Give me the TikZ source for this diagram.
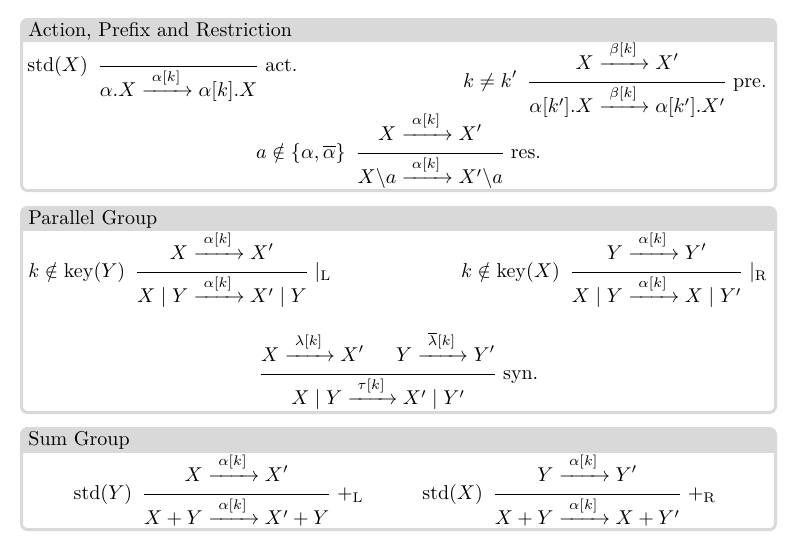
\documentclass[tikz,border=0pt]{standalone}
\usepackage{amsmath}
\usepackage{amssymb}
\usepackage{tikz}

\definecolor{panelgray}{gray}{0.85}

% labelled transition arrow
\newcommand{\trans}[1]{\xrightarrow{\hspace{2.5pt}#1\rule[-2.8pt]{0pt}{2.8pt}\hspace{2.5pt}}}
% side condition, premise, conclusion, rule name
\newcommand{\infrule}[4][]{%
  $\displaystyle
  \ifx\relax#1\relax\else{#1}\hspace{4.8pt}\fi
  {\frac{#2\rule[-5.1pt]{0pt}{5.1pt}}{\rule{0pt}{13.6pt}#3}}%
  \hspace{2.8pt}{#4}$}

\tikzset{
  panel/.style={draw=panelgray, line width=1.5pt, rounded corners=3pt},
  head/.style={anchor=base west, inner sep=0pt},
  infnode/.style={inner sep=0pt}
}

\begin{document}
\begin{tikzpicture}[x=0.5pt, y=-0.5pt]
\useasboundingbox (0,0) rectangle (793,552);

% Action, Prefix and Restriction
\begin{scope}
  \clip[rounded corners=3pt] (21.5,19.5) rectangle (775.5,190.5);
  \fill[panelgray] (21.5,19.5) rectangle (775.5,42);
\end{scope}
\draw[panel] (21.5,19.5) rectangle (775.5,190.5);
\node[head] (t1) at (28,36) {Action, Prefix and Restriction};

\node[infnode, anchor=base west] (act) at (27,71.5)
  {\infrule[\mathrm{std}(X)]{}{\alpha.X \trans{\alpha[k]} \alpha[k].X}{\text{act.}}};
\node[infnode, anchor=base east] (pre) at (767,87)
  {\infrule[k \neq k']{X \trans{\beta[k]} X'}{\alpha[k'].X \trans{\beta[k]} \alpha[k'].X'}{\text{pre.}}};
\node[infnode, anchor=base] (res) at (398.5,158)
  {\infrule[a \notin \{\alpha, \overline{\alpha}\}]{X \trans{\alpha[k]} X'}{X\backslash a \trans{\alpha[k]} X'\backslash a}{\text{res.}}};

% Parallel Group
\begin{scope}
  \clip[rounded corners=3pt] (21.5,207.5) rectangle (775.5,412.5);
  \fill[panelgray] (21.5,207.5) rectangle (775.5,231);
\end{scope}
\draw[panel] (21.5,207.5) rectangle (775.5,412.5);
\node[head] (t2) at (28,224) {Parallel Group};

\node[infnode, anchor=base west] (parl) at (28,277)
  {\infrule[k \notin \mathrm{key}(Y)]{X \trans{\alpha[k]} X'}{X \mid Y \trans{\alpha[k]} X' \mid Y}{|_{\mathrm{L}}}};
\node[infnode, anchor=base east] (parr) at (768,277)
  {\infrule[k \notin \mathrm{key}(X)]{Y \trans{\alpha[k]} Y'}{X \mid Y \trans{\alpha[k]} X \mid Y'}{|_{\mathrm{R}}}};
\node[infnode, anchor=base] (syn) at (398.5,379)
  {\infrule{X \trans{\lambda[k]} X' \hspace{16pt} Y \trans{\overline{\lambda}[k]} Y'}{X \mid Y \trans{\tau[k]} X' \mid Y'}{\text{syn.}}};

% Sum Group
\begin{scope}
  \clip[rounded corners=3pt] (21.5,428.5) rectangle (775.5,529.5);
  \fill[panelgray] (21.5,428.5) rectangle (775.5,453);
\end{scope}
\draw[panel] (21.5,428.5) rectangle (775.5,529.5);
\node[head] (t3) at (28,445) {Sum Group};

\node[infnode, anchor=base east] (suml) at (364,499)
  {\infrule[\mathrm{std}(Y)]{X \trans{\alpha[k]} X'}{X + Y \trans{\alpha[k]} X' + Y}{+_{\mathrm{L}}}};
\node[infnode, anchor=base west] (sumr) at (422,499)
  {\infrule[\mathrm{std}(X)]{Y \trans{\alpha[k]} Y'}{X + Y \trans{\alpha[k]} X + Y'}{+_{\mathrm{R}}}};
\end{tikzpicture}
\end{document}
